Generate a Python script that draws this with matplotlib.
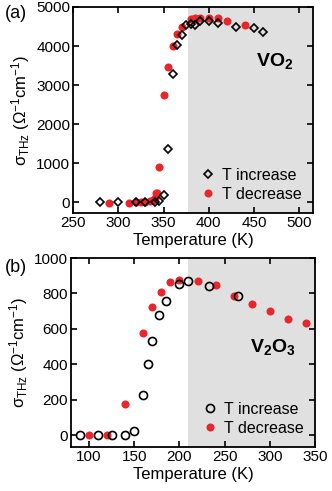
import matplotlib.pyplot as plt
import numpy as np

plt.rcParams['font.family'] = ['Liberation Sans', 'DejaVu Sans']
plt.rcParams['mathtext.fontset'] = 'custom'
plt.rcParams['mathtext.rm'] = 'Liberation Sans'
plt.rcParams['mathtext.it'] = 'Liberation Sans:italic'
plt.rcParams['mathtext.bf'] = 'Liberation Sans:bold'

# VO2 Daten
vo2_T_inc = [280, 300, 320, 330, 340, 345, 350, 355, 360, 365, 370, 375, 380,
             385, 390, 400, 410, 430, 450, 460]
vo2_s_inc = [0, 0, 0, 0, 0, 45, 195, 1377, 3275, 4035, 4290, 4540, 4565,
             4550, 4640, 4640, 4600, 4500, 4475, 4370]
vo2_T_dec = [290, 312, 320, 325, 330, 335, 338, 340, 342, 343, 345, 350, 355,
             360, 365, 370, 380, 385, 390, 400, 410, 420, 440]
vo2_s_dec = [-20, -15, 0, 0, 10, 30, 60, 120, 230, 250, 910, 2745, 3470,
             4015, 4315, 4500, 4700, 4720, 4720, 4720, 4720, 4640, 4550]

# V2O3 Daten
v2o3_T_inc = [90, 110, 125, 140, 150, 160, 165, 170, 177, 185, 199, 210, 233, 265]
v2o3_s_inc = [0, 0, 0, 0, 24, 226, 402, 532, 679, 755, 855, 868, 840, 787]
v2o3_T_dec = [100, 120, 140, 160, 170, 180, 190, 200, 220, 240, 260, 280, 300, 320, 340]
v2o3_s_dec = [0, 0, 179, 579, 723, 806, 866, 875, 872, 847, 787, 743, 702, 658, 632]

red = '#e8262b'
shade = '#e0e0e0'
ylab = 'σ$_{\\mathrm{THz}}$ (Ω$^{\\mathrm{-1}}$cm$^{\\mathrm{-1}}$)'

fig = plt.figure(figsize=(3.32, 4.91), dpi=100)
ax1 = fig.add_axes([73 / 332, 1 - 213 / 491, 240 / 332, 206 / 491])
ax2 = fig.add_axes([71 / 332, 1 - 447 / 491, 244 / 332, 189 / 491])

# (a) VO2
ax1.axvspan(377, 515, color=shade, lw=0, zorder=0)
ax1.plot(vo2_T_dec, vo2_s_dec, 'o', color=red, ms=5.8, mec='none', label='T decrease', zorder=2)
ax1.plot(vo2_T_inc, vo2_s_inc, 'D', mfc='none', mec='black', mew=1.2, ms=4.2,
         label='T increase', zorder=3)
ax1.set_xlim(250, 515)
ax1.set_ylim(-270, 5000)
ax1.set_xticks([250, 300, 350, 400, 450, 500])
ax1.set_yticks([0, 1000, 2000, 3000, 4000, 5000])
ax1.set_xlabel('Temperature (K)', fontsize=12, labelpad=2)
ax1.set_ylabel(ylab, fontsize=12, labelpad=3)
ax1.text(0.92, 0.74, r'$\mathbf{VO_2}$', transform=ax1.transAxes, fontsize=14,
         ha='right', va='center')
h, l = ax1.get_legend_handles_labels()
ax1.legend(h[::-1], l[::-1], loc='lower right', frameon=False, fontsize=11.5,
           handletextpad=0.3, borderaxespad=0.3, labelspacing=0.25, handlelength=1.2)

# (b) V2O3
ax2.axvspan(210, 350, color=shade, lw=0, zorder=0)
ax2.plot(v2o3_T_dec, v2o3_s_dec, 'o', color=red, ms=5.8, mec='none', label='T decrease', zorder=2)
ax2.plot(v2o3_T_inc, v2o3_s_inc, 'o', mfc='none', mec='black', mew=1.2, ms=5.8,
         label='T increase', zorder=3)
ax2.set_xlim(80, 350)
ax2.set_ylim(-66, 1000)
ax2.set_xticks([100, 150, 200, 250, 300, 350])
ax2.set_yticks([0, 200, 400, 600, 800, 1000])
ax2.set_xlabel('Temperature (K)', fontsize=12, labelpad=2)
ax2.set_ylabel(ylab, fontsize=12, labelpad=3)
ax2.text(0.92, 0.53, r'$\mathbf{V_2O_3}$', transform=ax2.transAxes, fontsize=14,
         ha='right', va='center')
h, l = ax2.get_legend_handles_labels()
ax2.legend(h[::-1], l[::-1], loc='lower right', frameon=False, fontsize=11.5,
           handletextpad=0.3, borderaxespad=0.3, labelspacing=0.25, handlelength=1.2)

for ax in (ax1, ax2):
    for sp in ax.spines.values():
        sp.set_linewidth(1.3)
    ax.tick_params(direction='in', top=True, right=True, length=4, width=1.2,
                   labelsize=11, pad=2)

fig.text(0.015, 1 - 14 / 491, '(a)', fontsize=13, va='center')
fig.text(0.015, 1 - 268 / 491, '(b)', fontsize=13, va='center')

fig.savefig('out.png', dpi=100)
